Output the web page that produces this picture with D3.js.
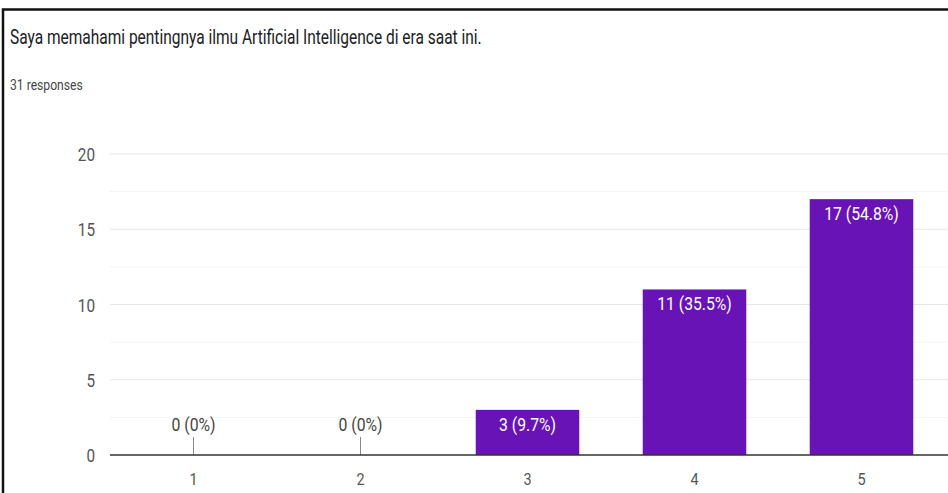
<!DOCTYPE html>
<html>
<head>
<meta charset="utf-8">
<script src="https://cdn.jsdelivr.net/npm/d3@7"></script>
<style>
  body { margin: 0; background: #fff; }
  text { font-family: Roboto, "Noto Sans", sans-serif; }
</style>
</head>
<body>
<div id="chart"></div>
<script>
const title = "Saya memahami pentingnya ilmu Artificial Intelligence di era saat ini.";
const subtitle = "31 responses";
const categories = ["1", "2", "3", "4", "5"];
const counts = [0, 0, 3, 11, 17];
const yTicks = [0, 5, 10, 15, 20];
const total = 31;

const W = 948, H = 493;
const margin = { top: 154, right: 2, bottom: 38, left: 110 };

const svg = d3.select("#chart").append("svg")
    .attr("width", W)
    .attr("height", H);

// card frame (left + top edge only visible)
svg.append("path")
    .attr("d", `M3,${H} L3,9.5 L${W},9.5`)
    .attr("fill", "none")
    .attr("stroke", "#111")
    .attr("stroke-width", 2.5);

// the screenshot text is squashed sideways, so each label gets its own x-scale
function label(g, x, y, str, size, color, anchor, sx) {
    return g.append("text")
        .attr("transform", `translate(${x},${y}) scale(${sx},1)`)
        .attr("text-anchor", anchor || "start")
        .attr("font-size", size)
        .attr("fill", color)
        .text(str);
}

label(svg, 10, 44, title, 20, "#202124", "start", 0.775);
label(svg, 10, 90, subtitle, 15, "#444", "start", 0.81);

const x = d3.scaleBand()
    .domain(categories)
    .range([margin.left, margin.left + 5 * 167])
    .paddingInner(0.38)
    .paddingOuter(0.19);

const y = d3.scaleLinear()
    .domain([0, 20])
    .range([H - margin.bottom, margin.top]);

// gridlines (major + minor)
const grid = svg.append("g");
grid.selectAll("line.minor")
    .data(d3.range(2.5, 20, 5))
    .enter().append("line")
    .attr("x1", margin.left).attr("x2", W)
    .attr("y1", d => y(d)).attr("y2", d => y(d))
    .attr("stroke", "#f4f4f4");
grid.selectAll("line.major")
    .data(yTicks.filter(d => d > 0))
    .enter().append("line")
    .attr("x1", margin.left).attr("x2", W)
    .attr("y1", d => y(d)).attr("y2", d => y(d))
    .attr("stroke", "#e6e6e6");

// y labels
yTicks.forEach(t => label(svg, 95, y(t) + 7, t, 18, "#555", "end", 0.85));

// bars
const data = categories.map((c, i) => ({ cat: c, value: counts[i] }));
const pct = d3.format(".1f");
const txt = d => d.value === 0 ? "0 (0%)" : `${d.value} (${pct(d.value / total * 100)}%)`;

svg.selectAll("rect.bar")
    .data(data.filter(d => d.value > 0))
    .enter().append("rect")
    .attr("x", d => x(d.cat))
    .attr("y", d => y(d.value))
    .attr("width", x.bandwidth())
    .attr("height", d => y(0) - y(d.value))
    .attr("fill", "#6813b5");

// zero bars: leader line + label above
data.filter(d => d.value === 0).forEach(d => {
    const cx = x(d.cat) + x.bandwidth() / 2;
    svg.append("line")
        .attr("x1", cx).attr("x2", cx)
        .attr("y1", y(0)).attr("y2", y(0) - 18)
        .attr("stroke", "#888");
    label(svg, cx, y(0) - 24, txt(d), 17.5, "#444", "middle", 0.9);
});

data.filter(d => d.value > 0).forEach(d => {
    const cx = x(d.cat) + x.bandwidth() / 2;
    label(svg, cx, y(d.value) + 21, txt(d), 17.5, "#fff", "middle", 0.9);
});

// baseline
svg.append("line")
    .attr("x1", margin.left).attr("x2", W)
    .attr("y1", y(0)).attr("y2", y(0))
    .attr("stroke", "#333")
    .attr("stroke-width", 1.5);

// x labels
categories.forEach(c => label(svg, x(c) + x.bandwidth() / 2, 485, c, 17, "#555", "middle", 0.85));
</script>
</body>
</html>
